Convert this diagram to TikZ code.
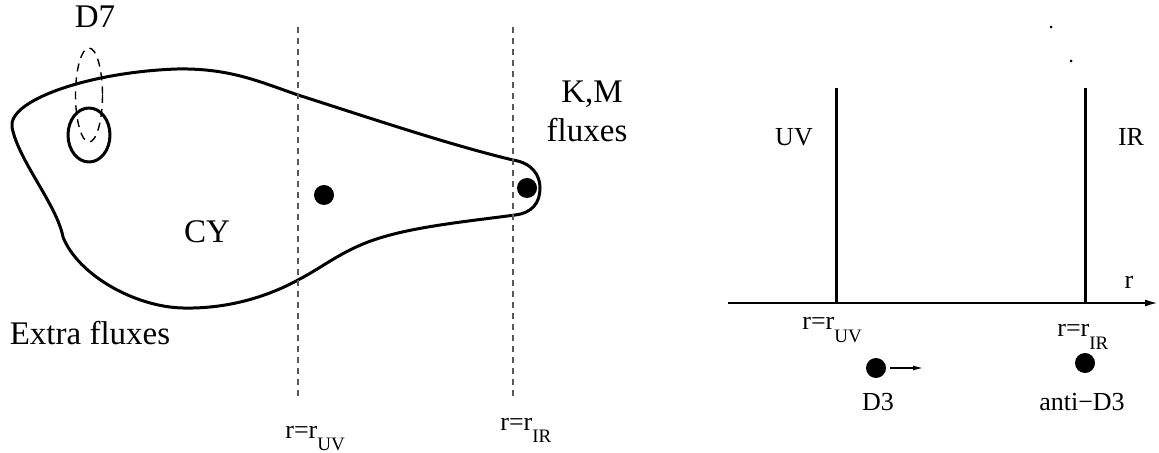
\documentclass[tikz,border=0pt]{standalone}
\usepackage{fontspec}
\setmainfont{Liberation Serif}
\usetikzlibrary{arrows.meta}
\newcommand{\bigtxt}{\fontsize{16.5}{19}\selectfont}
\newcommand{\medtxt}{\fontsize{13}{15}\selectfont}
\newcommand{\subtxt}{\fontsize{9.5}{11}\selectfont}
\newcommand{\rlabel}[1]{r=r\raisebox{-6.3pt}{\subtxt #1}}

\begin{document}
\begin{tikzpicture}[
  x = 0.5pt, y = -0.5pt,
  every node/.style = {inner sep=0pt},
  blob/.style     = {line width=1.5pt, line join=round},
  d7loop/.style   = {line width=0.7pt, dash pattern=on 4pt off 3pt},
  cutline/.style  = {black!65, line width=0.6pt, dash pattern=on 3pt off 2.5pt},
  wall/.style     = {line width=1.5pt},
  axisline/.style = {line width=1pt, -{Latex[length=6.5pt,width=3.5pt]}},
  pusharrow/.style= {line width=0.6pt, shorten <=2pt, -{Latex[length=5pt,width=2.5pt]}},
  brane/.style    = {circle, fill=black, minimum size=10pt},
  speck/.style    = {circle, fill=black, minimum size=1.5pt},
  bigtext/.style  = {font=\bigtxt, anchor=base},
  medtext/.style  = {font=\medtxt, anchor=base},
  rtext/.style    = {font=\medtxt, anchor=base west}
]
\useasboundingbox (0,0) rectangle (1159,453);

% the CY with its throat
\draw[blob] (12,127) .. controls (8,100) and (90,72) .. (177,69)
  .. controls (230,68) and (260,82) .. (298,95)
  .. controls (370,118) and (450,145) .. (513,160)
  .. controls (532,163) and (540,175) .. (540,188)
  .. controls (540,203) and (532,213) .. (515,215)
  .. controls (470,221) and (420,226) .. (383,237)
  .. controls (345,248) and (325,266) .. (298,280)
  .. controls (265,298) and (225,309) .. (183,308)
  .. controls (135,307) and (78,275) .. (63,237)
  .. controls (57,205) and (18,160) .. (12,127) -- cycle;

% D7 wrapping a cycle
\draw[blob] (89,135) ellipse [x radius=21, y radius=27];
\draw[d7loop] (89,95) ellipse [x radius=13.5, y radius=47];

\node[bigtext] (d7)     at (95,28)   {D7};
\node[bigtext] (cy)     at (207,243) {CY};
\node[bigtext] (km)     at (592,103) {K,M};
\node[bigtext] (kmflux) at (587,142) {fluxes};
\node[bigtext] (extra)  at (90,345)  {Extra fluxes};

\node[brane] (uvdot)  at (324,195) {};
\node[brane] (tipdot) at (527,188) {};

\coordinate (uvcuttop) at (298,27);
\coordinate (uvcutbot) at (298,398);
\coordinate (ircuttop) at (513,27);
\coordinate (ircutbot) at (513,398);
\draw[cutline] (uvcuttop) -- (uvcutbot);
\draw[cutline] (ircuttop) -- (ircutbot);

\node[rtext] (uvcutlbl) at (285,438) {\rlabel{UV}};
\node[rtext] (ircutlbl) at (500,430) {\rlabel{IR}};

% radial picture
\coordinate (axstart) at (728,303);
\coordinate (axend)   at (1158,303);
\coordinate (uvtop)   at (836,88);
\coordinate (uvbot)   at (836,303);
\coordinate (irtop)   at (1085,88);
\coordinate (irbot)   at (1085,303);
\draw[axisline] (axstart) -- (axend);
\draw[wall] (uvtop) -- (uvbot);
\draw[wall] (irtop) -- (irbot);

\node[speck] (speckA) at (1051,27) {};
\node[speck] (speckB) at (1071,61) {};

\node[medtext] (uvlbl) at (794,146)  {UV};
\node[medtext] (irlbl) at (1131,146) {IR};
\node[medtext] (rlbl)  at (1129,289) {r};
\node[rtext] (uvwall) at (802,330)  {\rlabel{UV}};
\node[rtext] (irwall) at (1057,337) {\rlabel{IR}};

\node[brane] (d3)     at (876,368)  {};
\node[brane] (antid3) at (1085,363) {};
\coordinate (push) at (923,368);
\draw[pusharrow] (d3) -- (push);

\node[medtext] (d3lbl)     at (878,410)  {D3};
\node[medtext] (antid3lbl) at (1082,410) {anti−D3};
\end{tikzpicture}
\end{document}
